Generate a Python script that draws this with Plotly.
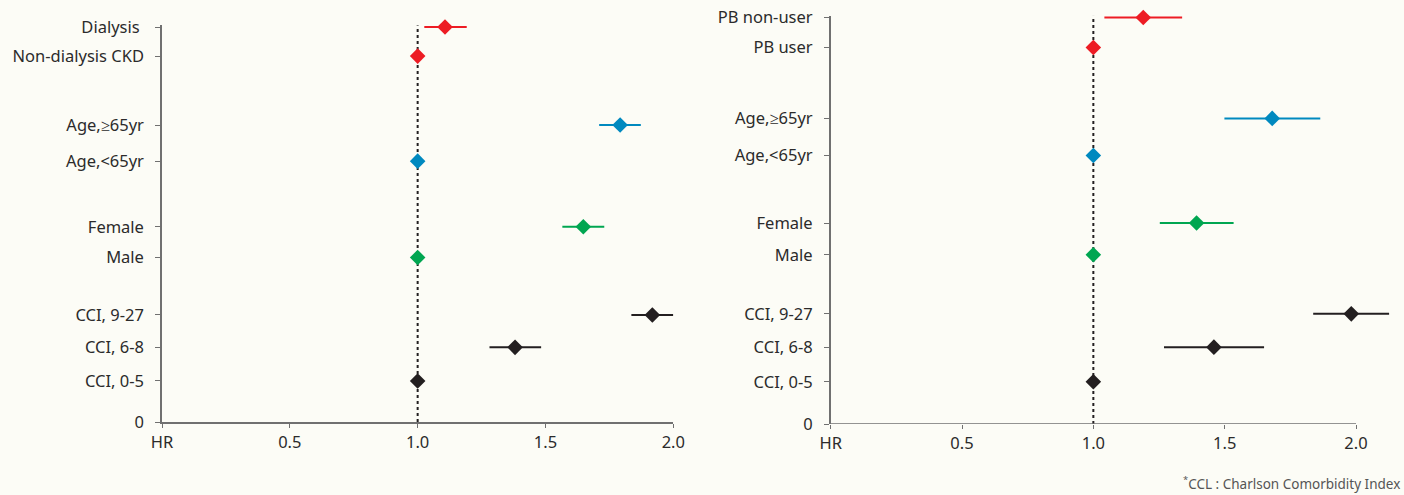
import plotly.graph_objects as go

# ---- data ----
left_labels = ["CCI, 0-5", "CCI, 6-8", "CCI, 9-27", "Male", "Female",
               "Age,<65yr", "Age,\u226565yr", "Non-dialysis CKD", "Dialysis "]
right_labels = ["CCI, 0-5", "CCI, 6-8", "CCI, 9-27", "Male", "Female",
                "Age,<65yr", "Age,\u226565yr", "PB user", "PB non-user"]
row_pos = [1.0, 1.82, 2.61, 4.01, 4.76, 6.36, 7.24, 8.92, 9.63]

left_hr = [1.0, 1.381, 1.918, 1.0, 1.648, 1.0, 1.792, 1.0, 1.107]
left_lo = [1.0, 1.281, 1.836, 1.0, 1.566, 1.0, 1.710, 1.0, 1.026]
left_hi = [1.0, 1.483, 2.000, 1.0, 1.730, 1.0, 1.873, 1.0, 1.192]

right_hr = [1.0, 1.459, 1.982, 1.0, 1.393, 1.0, 1.681, 1.0, 1.190]
right_lo = [1.0, 1.269, 1.837, 1.0, 1.253, 1.0, 1.499, 1.0, 1.042]
right_hi = [1.0, 1.650, 2.126, 1.0, 1.534, 1.0, 1.864, 1.0, 1.338]

x_tickvals = [0, 0.5, 1.0, 1.5, 2.0]
x_ticktext = ["HR", "0.5", "1.0", "1.5", "2.0"]

RED, BLUE, GREEN, BLACK = "#ED1C24", "#0089BF", "#00A651", "#231F20"
row_colors = [BLACK, BLACK, BLACK, GREEN, GREEN, BLUE, BLUE, RED, RED]

FONT = "Noto Sans"
TXT = "#2b2b2b"
AX = "#707070"
BG = "#FCFCF6"
FS = 16.5
PAD = 0.04  # tiny headroom so the top CI line is not clipped

fig = go.Figure()


def add_panel(xa, ya, hr, lo, hi):
    for y, h, l, u, c in zip(row_pos, hr, lo, hi, row_colors):
        fig.add_trace(go.Scatter(
            x=[h], y=[y], mode="markers",
            marker=dict(symbol="diamond", size=12, color=c, line=dict(width=0)),
            error_x=dict(type="data", symmetric=False, array=[u - h],
                         arrayminus=[h - l], thickness=2, width=0, color=c,
                         visible=(u > l)),
            xaxis=xa, yaxis=ya, showlegend=False, cliponaxis=False))


add_panel("x", "y", left_hr, left_lo, left_hi)
add_panel("x2", "y2", right_hr, right_lo, right_hi)

ytop = row_pos[-1]
# reference lines at HR = 1
for xr, yr in (("x", "y"), ("x2", "y2")):
    fig.add_shape(type="line", xref=xr, yref=yr, x0=1, x1=1, y0=0, y1=ytop + PAD,
                  line=dict(color=BLACK, width=2, dash="3px,3px"), layer="below")
# right x-axis line only up to 2.0
fig.add_shape(type="line", xref="x2", yref="y2", x0=0, x1=2.0, y0=0, y1=0,
              line=dict(color=AX, width=1.5), layer="above")

xcommon = dict(tickvals=x_tickvals, ticktext=x_ticktext, ticks="outside",
               ticklen=4, tickwidth=1.2, tickcolor=AX, showgrid=False,
               zeroline=False, tickfont=dict(family=FONT, size=FS, color=TXT),
               fixedrange=True, automargin=False)
ycommon = dict(range=[0, ytop + PAD], tickvals=[0] + row_pos, ticks="outside",
               ticklen=5, tickwidth=1.2, tickcolor=AX, showgrid=False,
               zeroline=False, showline=True, linecolor=AX, linewidth=1.5,
               tickfont=dict(family=FONT, size=FS, color=TXT),
               ticklabelstandoff=8, automargin=False)

fig.update_layout(
    width=1404, height=495, autosize=False,
    margin=dict(l=0, r=0, t=0, b=0, pad=0),
    paper_bgcolor=BG, plot_bgcolor=BG,
    xaxis=dict(domain=[162 / 1404, 673.3 / 1404], range=[0, 2.0],
               showline=True, linecolor=AX, linewidth=1.5, anchor="y", **xcommon),
    yaxis=dict(domain=[1 - 422 / 495, 1 - (27 - PAD * 41) / 495], anchor="x",
               ticktext=["0"] + left_labels, **ycommon),
    xaxis2=dict(domain=[830.7 / 1404, (830.7 + 2.15 * 262.65) / 1404],
                range=[0, 2.15], showline=False, anchor="y2", **xcommon),
    yaxis2=dict(domain=[1 - 424 / 495, 1 - (17.5 - PAD * 42.2) / 495], anchor="x2",
                ticktext=["0"] + right_labels, **ycommon),
    annotations=[dict(text="<sup>*</sup>CCL : Charlson Comorbidity Index",
                      x=1402 / 1404, y=1 - 483 / 495, xref="paper", yref="paper",
                      xanchor="right", yanchor="middle", showarrow=False,
                      font=dict(family=FONT, size=13.5, color="#555555"))],
)

fig.write_html(
    "out.html",
    config={"responsive": False, "displayModeBar": False},
    post_script="document.body.style.margin='0';document.body.style.padding='0';"
                "document.body.style.overflow='hidden';"
                "document.documentElement.style.background='" + BG + "';",
)
